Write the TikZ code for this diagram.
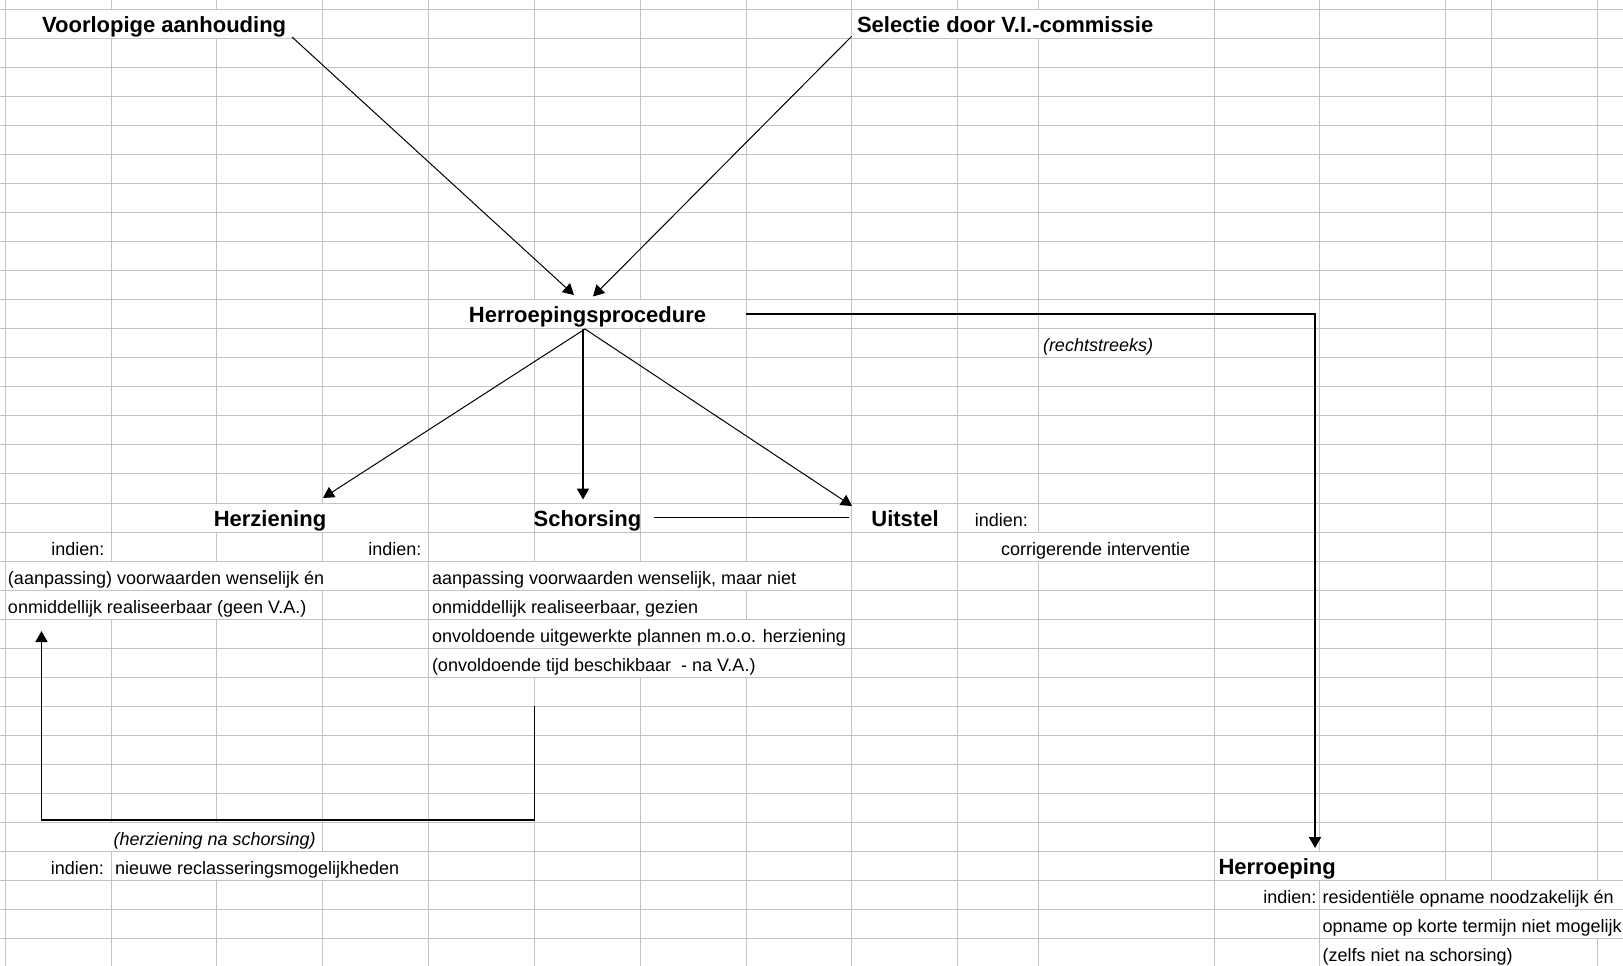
\documentclass[tikz,border=0pt]{standalone}
\usepackage{fontspec}
\setmainfont{Liberation Sans}
\usetikzlibrary{arrows.meta}
\definecolor{gridc}{RGB}{196,196,196}
\newcommand\hideseg[2]{\fill[white] ({#1-1.6},{round(9+29.03*#2)+1.2}) rectangle ({#1+1.6},{round(9+29.03*(#2+1))-0.2});}
\begin{document}
\begin{tikzpicture}[x=1pt,y=-1pt,
  txt/.style={inner sep=0pt,outer sep=0pt,font=\fontsize{18}{20}\selectfont},
  ttl/.style={inner sep=0pt,outer sep=0pt,font=\fontsize{22}{24}\selectfont\bfseries},
  itx/.style={inner sep=0pt,outer sep=0pt,font=\fontsize{18}{20}\selectfont\itshape},
  gridline/.style={draw=gridc,line width=1pt},
  thinconn/.style={draw=black,line width=1pt},
  thickconn/.style={draw=black,line width=1.7pt},
  headed/.style={-{Triangle[length=11pt,width=12pt]}}]
\useasboundingbox (0,0) rectangle (1623,966);
\fill[white] (0,0) rectangle (1623,966);
% grid
\foreach \k in {0,...,32} {\draw[gridline] (0,{round(9+29.03*\k)+0.5}) -- (1623,{round(9+29.03*\k)+0.5});}
\foreach \x in {5.5,111.5,216.5,322.5,428.5,534.5,640.5,746.5,851.5,957.5,1038.5,1214.5,1319.5,1445.5,1491.5,1597.5}
  {\draw[gridline] (\x,0) -- (\x,966);}
% grid lines hidden by overflowing text
\foreach \x in {111.5,216.5,957.5,1038.5} {\hideseg{\x}{0}}
\foreach \x in {534.5,640.5} {\hideseg{\x}{10}}
\foreach \x in {216.5,322.5} {\hideseg{\x}{17}}
\hideseg{1038.5}{18}
\foreach \x in {111.5,216.5,322.5,534.5,640.5,746.5} {\hideseg{\x}{19}}
\foreach \x in {111.5,216.5,534.5,640.5} {\hideseg{\x}{20}}
\foreach \x in {534.5,640.5,746.5} {\hideseg{\x}{21}}
\foreach \x in {534.5,640.5,746.5} {\hideseg{\x}{22}}
\foreach \x in {111.5,216.5} {\hideseg{\x}{28}}
\foreach \x in {216.5,322.5,1319.5} {\hideseg{\x}{29}}
\foreach \x in {1445.5,1491.5,1597.5} {\hideseg{\x}{30}}
\foreach \x in {1445.5,1491.5,1597.5} {\hideseg{\x}{31}}
\foreach \x in {1445.5,1491.5} {\hideseg{\x}{32}}

% text nodes
\node[ttl,anchor=base] (va) at (164.1,32.5) {Voorlopige aanhouding};
\node[ttl,anchor=base west] (sel) at (857,32.5) {Selectie door V.I.-commissie};
\node[ttl,anchor=base] (hp) at (587.5,322.8) {Herroepingsprocedure};
\node[itx,anchor=base west] (rs) at (1043,351.9) {(rechtstreeks)};
\node[ttl,anchor=base] (hz) at (270,526) {Herziening};
\node[ttl,anchor=base] (sch) at (587.5,526) {Schorsing};
\node[ttl,anchor=base] (uit) at (905,526) {Uitstel};
\node[txt,anchor=base east] (uitind) at (1028,526) {indien:};
\node[txt,anchor=base east] (hzind) at (104.3,555.1) {indien:};
\node[txt,anchor=base east] (schind) at (421.4,555.1) {indien:};
\node[txt,anchor=base west] (uitc) at (1001,555.1) {corrigerende interventie};
\node[txt,anchor=base west] (hzc1) at (8,584.1) {(aanpassing) voorwaarden wenselijk én};
\node[txt,anchor=base west] (hzc2) at (8,613.1) {onmiddellijk realiseerbaar (geen V.A.)};
\node[txt,anchor=base west] (schc1) at (432,584.1) {aanpassing voorwaarden wenselijk, maar niet};
\node[txt,anchor=base west] (schc2) at (432,613.1) {onmiddellijk realiseerbaar, gezien};
\node[txt,anchor=base west] (schc3) at (432,642.2) {onvoldoende uitgewerkte plannen m.o.o. herziening};
\node[txt,anchor=base west] (schc4) at (432,671.2) {(onvoldoende tijd beschikbaar~ - na V.A.)};
\node[itx,anchor=base east] (hns) at (315.7,845.4) {(herziening na schorsing)};
\node[txt,anchor=base east] (hnsind) at (104,874.4) {indien:};
\node[txt,anchor=base west] (hnsc) at (115,874.4) {nieuwe reclasseringsmogelijkheden};
\node[ttl,anchor=base west] (hr) at (1218.5,874.4) {Herroeping};
\node[txt,anchor=base east] (hrind) at (1316.5,903.4) {indien:};
\node[txt,anchor=base west] (hrc1) at (1322.5,903.4) {residentiële opname noodzakelijk én};
\node[txt,anchor=base west] (hrc2) at (1322.5,932.5) {opname op korte termijn niet mogelijk};
\node[txt,anchor=base west] (hrc3) at (1322.5,961.5) {(zelfs niet na schorsing)};

% connector end points
\coordinate (vaO) at (292,37);
\coordinate (hpI1) at (574,295);
\coordinate (selO) at (851.5,36.5);
\coordinate (hpI2) at (593,296.5);
\coordinate (hpO) at (585,329);
\coordinate (hpOv) at (583,329);
\coordinate (hzI) at (323,498);
\coordinate (schI) at (583,499.5);
\coordinate (uitI) at (852,506);
\coordinate (hpR) at (746,314);
\coordinate (cR) at (1315,314);
\coordinate (hrI) at (1315,848);
\coordinate (schR) at (654,517.5);
\coordinate (uitL) at (849,517.5);
\coordinate (lpA) at (534.5,706);
\coordinate (lpB) at (534.5,820);
\coordinate (lpC) at (41.5,820);
\coordinate (lpD) at (41.5,631);

% connectors
\draw[thinconn,headed] (vaO) -- (hpI1);
\draw[thinconn,headed] (selO) -- (hpI2);
\draw[thinconn,headed] (hpO) -- (hzI);
\draw[thickconn,headed] (hpOv) -- (schI);
\draw[thinconn,headed] (hpO) -- (uitI);
\draw[thickconn] (schR) -- (uitL);
\draw[thickconn,headed] (hpR) -- (cR) -- (hrI);
\draw[thickconn,headed] (lpA) -- (lpB) -- (lpC) -- (lpD);
\end{tikzpicture}
\end{document}
